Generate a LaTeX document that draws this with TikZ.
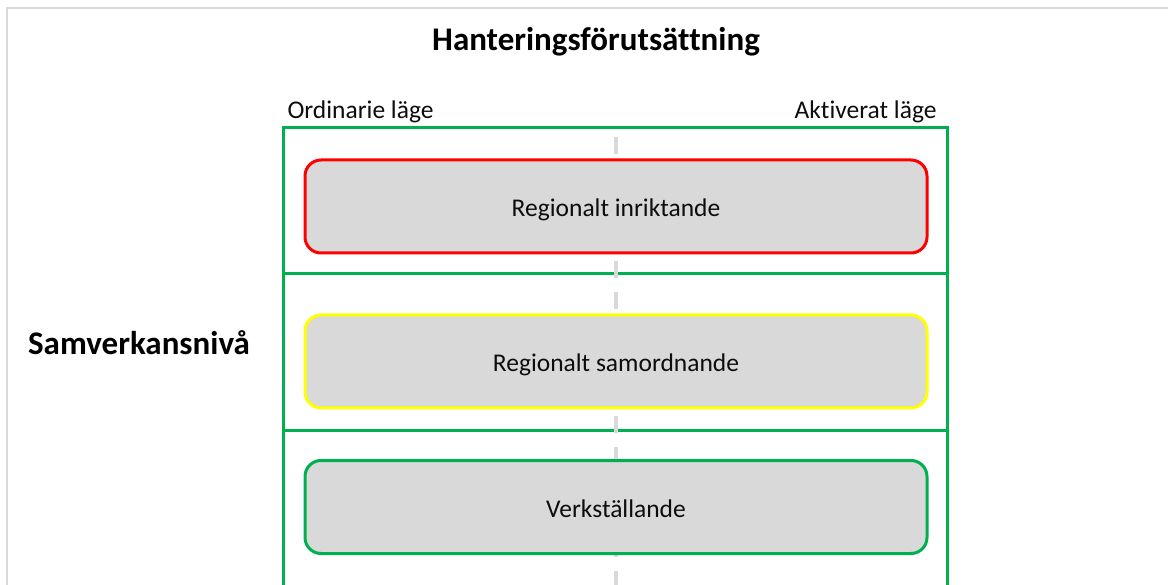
\documentclass[tikz,border=0pt]{standalone}
\usepackage{fontspec}
\setmainfont{Carlito}[Ligatures={NoCommon}]
\definecolor{lgray}{HTML}{D9D9D9}
\definecolor{frame}{HTML}{00B050}
\definecolor{boxred}{HTML}{FF0000}
\definecolor{boxyellow}{HTML}{FFFF00}
\definecolor{textc}{HTML}{0D0D0D}
\tikzset{
  lane/.style={draw=frame, line width=3pt},
  levelbox/.style={rounded corners=16pt, fill=lgray, line width=3pt, minimum width=622pt, minimum height=93pt, text=textc, font=\fontsize{25.5}{30}\selectfont, text height=20pt, text depth=0pt},
  boldlabel/.style={font=\fontsize{33}{38}\selectfont\bfseries, text=black},
  modelabel/.style={font=\fontsize{25.5}{30}\selectfont, text=textc},
  axis/.style={draw=lgray, line width=4pt, dash pattern=on 17pt off 14pt}
}
\begin{document}
\begin{tikzpicture}[x=1pt,y=-1pt]
\useasboundingbox (0,0) rectangle (1168,585);
\draw[draw=lgray, line width=2pt] (7,600) -- (7,8) -- (1180,8);
\node[boldlabel] (title) at (596,42) {Hanteringsförutsättning};
\node[boldlabel] (level) at (139,343) {Samverkansnivå};
\node[modelabel, anchor=west] (ord) at (284,112) {Ordinarie läge};
\node[modelabel, anchor=east] (akt) at (940,112) {Aktiverat läge};
% lanes
\draw[lane] (283,128) rectangle (947,274);
\draw[lane] (283,274) rectangle (947,430);
\draw[lane] (283,430) rectangle (947,600);
% axis
\coordinate (axtop) at (616,137);
\coordinate (axbot) at (616,600);
\draw[axis] (axtop) -- (axbot);
% boxes
\node[levelbox, draw=boxred] (b1) at (616,206.5) {Regionalt inriktande};
\node[levelbox, draw=boxyellow] (b2) at (616,361.5) {Regionalt samordnande};
\node[levelbox, draw=frame] (b3) at (616,507) {Verkställande};
\end{tikzpicture}
\end{document}
